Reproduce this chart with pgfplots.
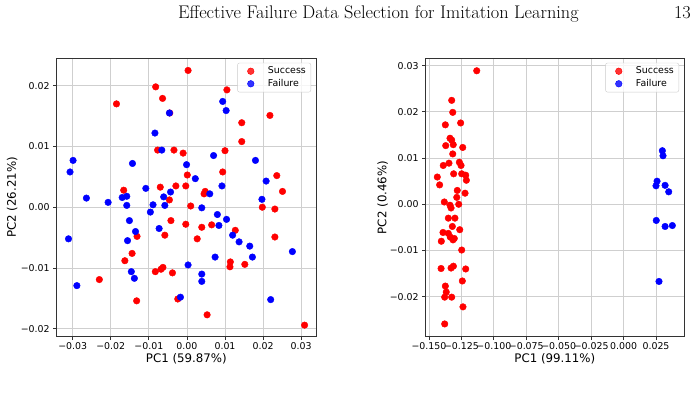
\documentclass[border=0pt]{standalone}
\usepackage{pgfplots}
\pgfplotsset{compat=1.18}
\usepackage{fontspec}
\newfontfamily\dejavu{DejaVu Sans}

\definecolor{gridgray}{HTML}{CFCFCF}
\definecolor{spine}{HTML}{333333}

% PCA projections of the demonstration features (PC1, PC2)
\pgfplotstableread{
x y
0.0003 0.0225
-0.0185 0.0170
-0.0082 0.0198
-0.0064 0.0179
-0.0045 0.0155
0.0105 0.0193
0.0218 0.0151
0.0144 0.0139
0.0144 0.0108
-0.0077 0.0094
-0.0034 0.0094
-0.0010 0.0089
0.0100 0.0093
0.0094 0.0058
0.0001 0.0053
0.0236 0.0052
0.0251 0.0026
-0.0166 0.0028
-0.0070 0.0033
-0.0029 0.0035
-0.0003 0.0035
0.0048 0.0026
0.0045 0.0022
-0.0046 0.0012
0.0010 0.0002
0.0198 0.0000
0.0231 -0.0003
-0.0042 -0.0022
-0.0003 -0.0028
0.0039 -0.0033
0.0065 -0.0029
0.0027 -0.0052
-0.0058 -0.0046
-0.0131 -0.0048
0.0127 -0.0038
0.0231 -0.0049
-0.0144 -0.0076
-0.0163 -0.0088
-0.0230 -0.0119
-0.0083 -0.0106
-0.0068 -0.0102
-0.0063 -0.0099
-0.0038 -0.0108
0.0114 -0.0090
0.0113 -0.0098
0.0152 -0.0094
-0.0132 -0.0154
-0.0024 -0.0151
0.0053 -0.0177
0.0309 -0.0194
}\leftsuccess

\pgfplotstableread{
x y
-0.0084 0.0122
-0.0046 0.0155
-0.0066 0.0094
0.0094 0.0174
0.0103 0.0159
-0.0299 0.0077
-0.0307 0.0058
-0.0143 0.0072
-0.0001 0.0070
0.0070 0.0085
0.0180 0.0077
0.0022 0.0047
-0.0108 0.0031
-0.0264 0.0015
-0.0207 0.0008
-0.0170 0.0016
-0.0158 0.0018
-0.0158 0.0003
-0.0061 0.0017
-0.0043 0.0025
-0.0058 0.0003
-0.0089 0.0004
-0.0096 -0.0008
0.0060 0.0022
0.0092 0.0035
0.0208 0.0043
0.0197 0.0013
0.0039 -0.0001
-0.0151 -0.0022
-0.0311 -0.0052
-0.0289 -0.0129
-0.0135 -0.0040
-0.0156 -0.0055
-0.0146 -0.0106
-0.0138 -0.0117
-0.0073 -0.0035
0.0003 -0.0095
-0.0017 -0.0148
0.0039 -0.0110
0.0039 -0.0122
0.0080 -0.0012
0.0084 -0.0030
0.0104 -0.0020
0.0074 -0.0082
0.0120 -0.0046
0.0137 -0.0057
0.0165 -0.0064
0.0172 -0.0082
0.0277 -0.0073
0.0220 -0.0152
}\leftfailure

\pgfplotstableread{
x y
-0.1132 0.0289
-0.1325 0.0225
-0.1317 0.0199
-0.1374 0.0172
-0.1256 0.0176
-0.1338 0.0143
-0.1325 0.0139
-0.1313 0.0129
-0.1371 0.0127
-0.1240 0.0123
-0.1317 0.0109
-0.1390 0.0084
-0.1346 0.0089
-0.1266 0.0091
-0.1253 0.0084
-0.1310 0.0066
-0.1248 0.0066
-0.1217 0.0063
-0.1212 0.0052
-0.1436 0.0059
-0.1418 0.0042
-0.1282 0.0030
-0.1222 0.0024
-0.1286 0.0015
-0.1382 0.0005
-0.1338 -0.0002
-0.1330 -0.0008
-0.1271 0.0000
-0.1351 -0.0030
-0.1300 -0.0030
-0.1320 -0.0048
-0.1263 -0.0055
-0.1392 -0.0061
-0.1351 -0.0063
-0.1405 -0.0080
-0.1336 -0.0071
-0.1305 -0.0074
-0.1315 -0.0077
-0.1248 -0.0099
-0.1407 -0.0139
-0.1330 -0.0138
-0.1312 -0.0134
-0.1217 -0.0140
-0.1243 -0.0166
-0.1374 -0.0177
-0.1367 -0.0190
-0.1379 -0.0201
-0.1325 -0.0201
-0.1238 -0.0222
-0.1379 -0.0259
}\rightsuccess

\pgfplotstableread{
x y
0.0299 0.0116
0.0304 0.0105
0.0258 0.0050
0.0250 0.0040
0.0320 0.0041
0.0348 0.0027
0.0252 -0.0035
0.0320 -0.0048
0.0376 -0.0046
0.0273 -0.0167
}\rightfailure

\pgfplotsset{
  pcastyle/.style={
    scale only axis,
    height=278.4pt,
    scaled ticks=false,
    axis line style={spine, line width=0.8pt},
    grid=major,
    major grid style={gridgray, line width=0.8pt},
    tick align=outside,
    tick pos=left,
    major tick length=3.5pt,
    tick style={spine, line width=0.8pt},
    tick label style={font=\dejavu\fontsize{9.4}{11}\selectfont},
    label style={font=\dejavu\fontsize{11.8}{14}\selectfont},
    xticklabel style={yshift=1pt},
    legend cell align=left,
    legend style={
      at={(1,1)}, anchor=north east, xshift=-5pt, yshift=-4.5pt,
      draw=black!20, rounded corners=2pt, fill=white, fill opacity=0.8,
      text opacity=1, font=\dejavu\fontsize{9.4}{11}\selectfont,
      inner xsep=3pt, inner ysep=2pt, row sep=0pt},
  },
  succ/.style={only marks, mark=*, mark size=3.3pt, color=red,
    mark options={draw=none, fill=red},
    legend image code/.code={\path (0pt,0pt) (25pt,0pt);
      \fill[red] (10pt,0pt) circle (3.3pt);}},
  fail/.style={only marks, mark=*, mark size=3.3pt, color=blue,
    mark options={draw=none, fill=blue},
    legend image code/.code={\path (0pt,0pt) (25pt,0pt);
      \fill[blue] (10pt,0pt) circle (3.3pt);}},
}

\begin{document}
\begin{tikzpicture}
\useasboundingbox (0pt,0pt) rectangle (698pt,403pt);

% running head
\node[anchor=base west, inner sep=0pt, font=\fontsize{18.3}{21}\selectfont]
  at (178pt,384pt) {Effective Failure Data Selection for Imitation Learning};
\node[anchor=base east, inner sep=0pt, font=\fontsize{18.3}{21}\selectfont]
  at (691pt,384pt) {13};

% left: PCA of both sets
\begin{axis}[pcastyle,
  at={(56.7pt,66.3pt)}, anchor=south west, width=259.3pt,
  xmin=-0.0342, xmax=0.0339, ymin=-0.0213, ymax=0.0245,
  xtick={-0.03,-0.02,-0.01,0,0.01,0.02,0.03},
  xticklabels={−0.03,−0.02,−0.01,0.00,0.01,0.02,0.03},
  ytick={-0.02,-0.01,0,0.01,0.02},
  yticklabels={−0.02,−0.01,0.00,0.01,0.02},
  xlabel={PC1 (59.87\%)}, ylabel={PC2 (26.21\%)},
  xlabel style={at={(axis description cs:0.5,-0.080)}, anchor=center},
  ylabel style={at={(axis description cs:-0.172,0.5)}, anchor=center},
]
\addplot[succ] table {\leftsuccess};
\addlegendentry{Success}
\addplot[fail] table {\leftfailure};
\addlegendentry{Failure}
\end{axis}

% right: PCA with the selected failure data
\begin{axis}[pcastyle,
  at={(425.7pt,66.3pt)}, anchor=south west, width=258.3pt,
  xmin=-0.15254, xmax=0.04658, ymin=-0.02866, ymax=0.0316,
  xtick={-0.15,-0.125,-0.1,-0.075,-0.05,-0.025,0,0.025},
  xticklabels={−0.150,−0.125,−0.100,−0.075,−0.050,−0.025,0.000,0.025},
  ytick={-0.02,-0.01,0,0.01,0.02,0.03},
  yticklabels={−0.02,−0.01,0.00,0.01,0.02,0.03},
  xlabel={PC1 (99.11\%)}, ylabel={PC2 (0.46\%)},
  xlabel style={at={(axis description cs:0.5,-0.080)}, anchor=center},
  ylabel style={at={(axis description cs:-0.167,0.5)}, anchor=center},
]
\addplot[succ] table {\rightsuccess};
\addlegendentry{Success}
\addplot[fail] table {\rightfailure};
\addlegendentry{Failure}
\end{axis}
\end{tikzpicture}
\end{document}
